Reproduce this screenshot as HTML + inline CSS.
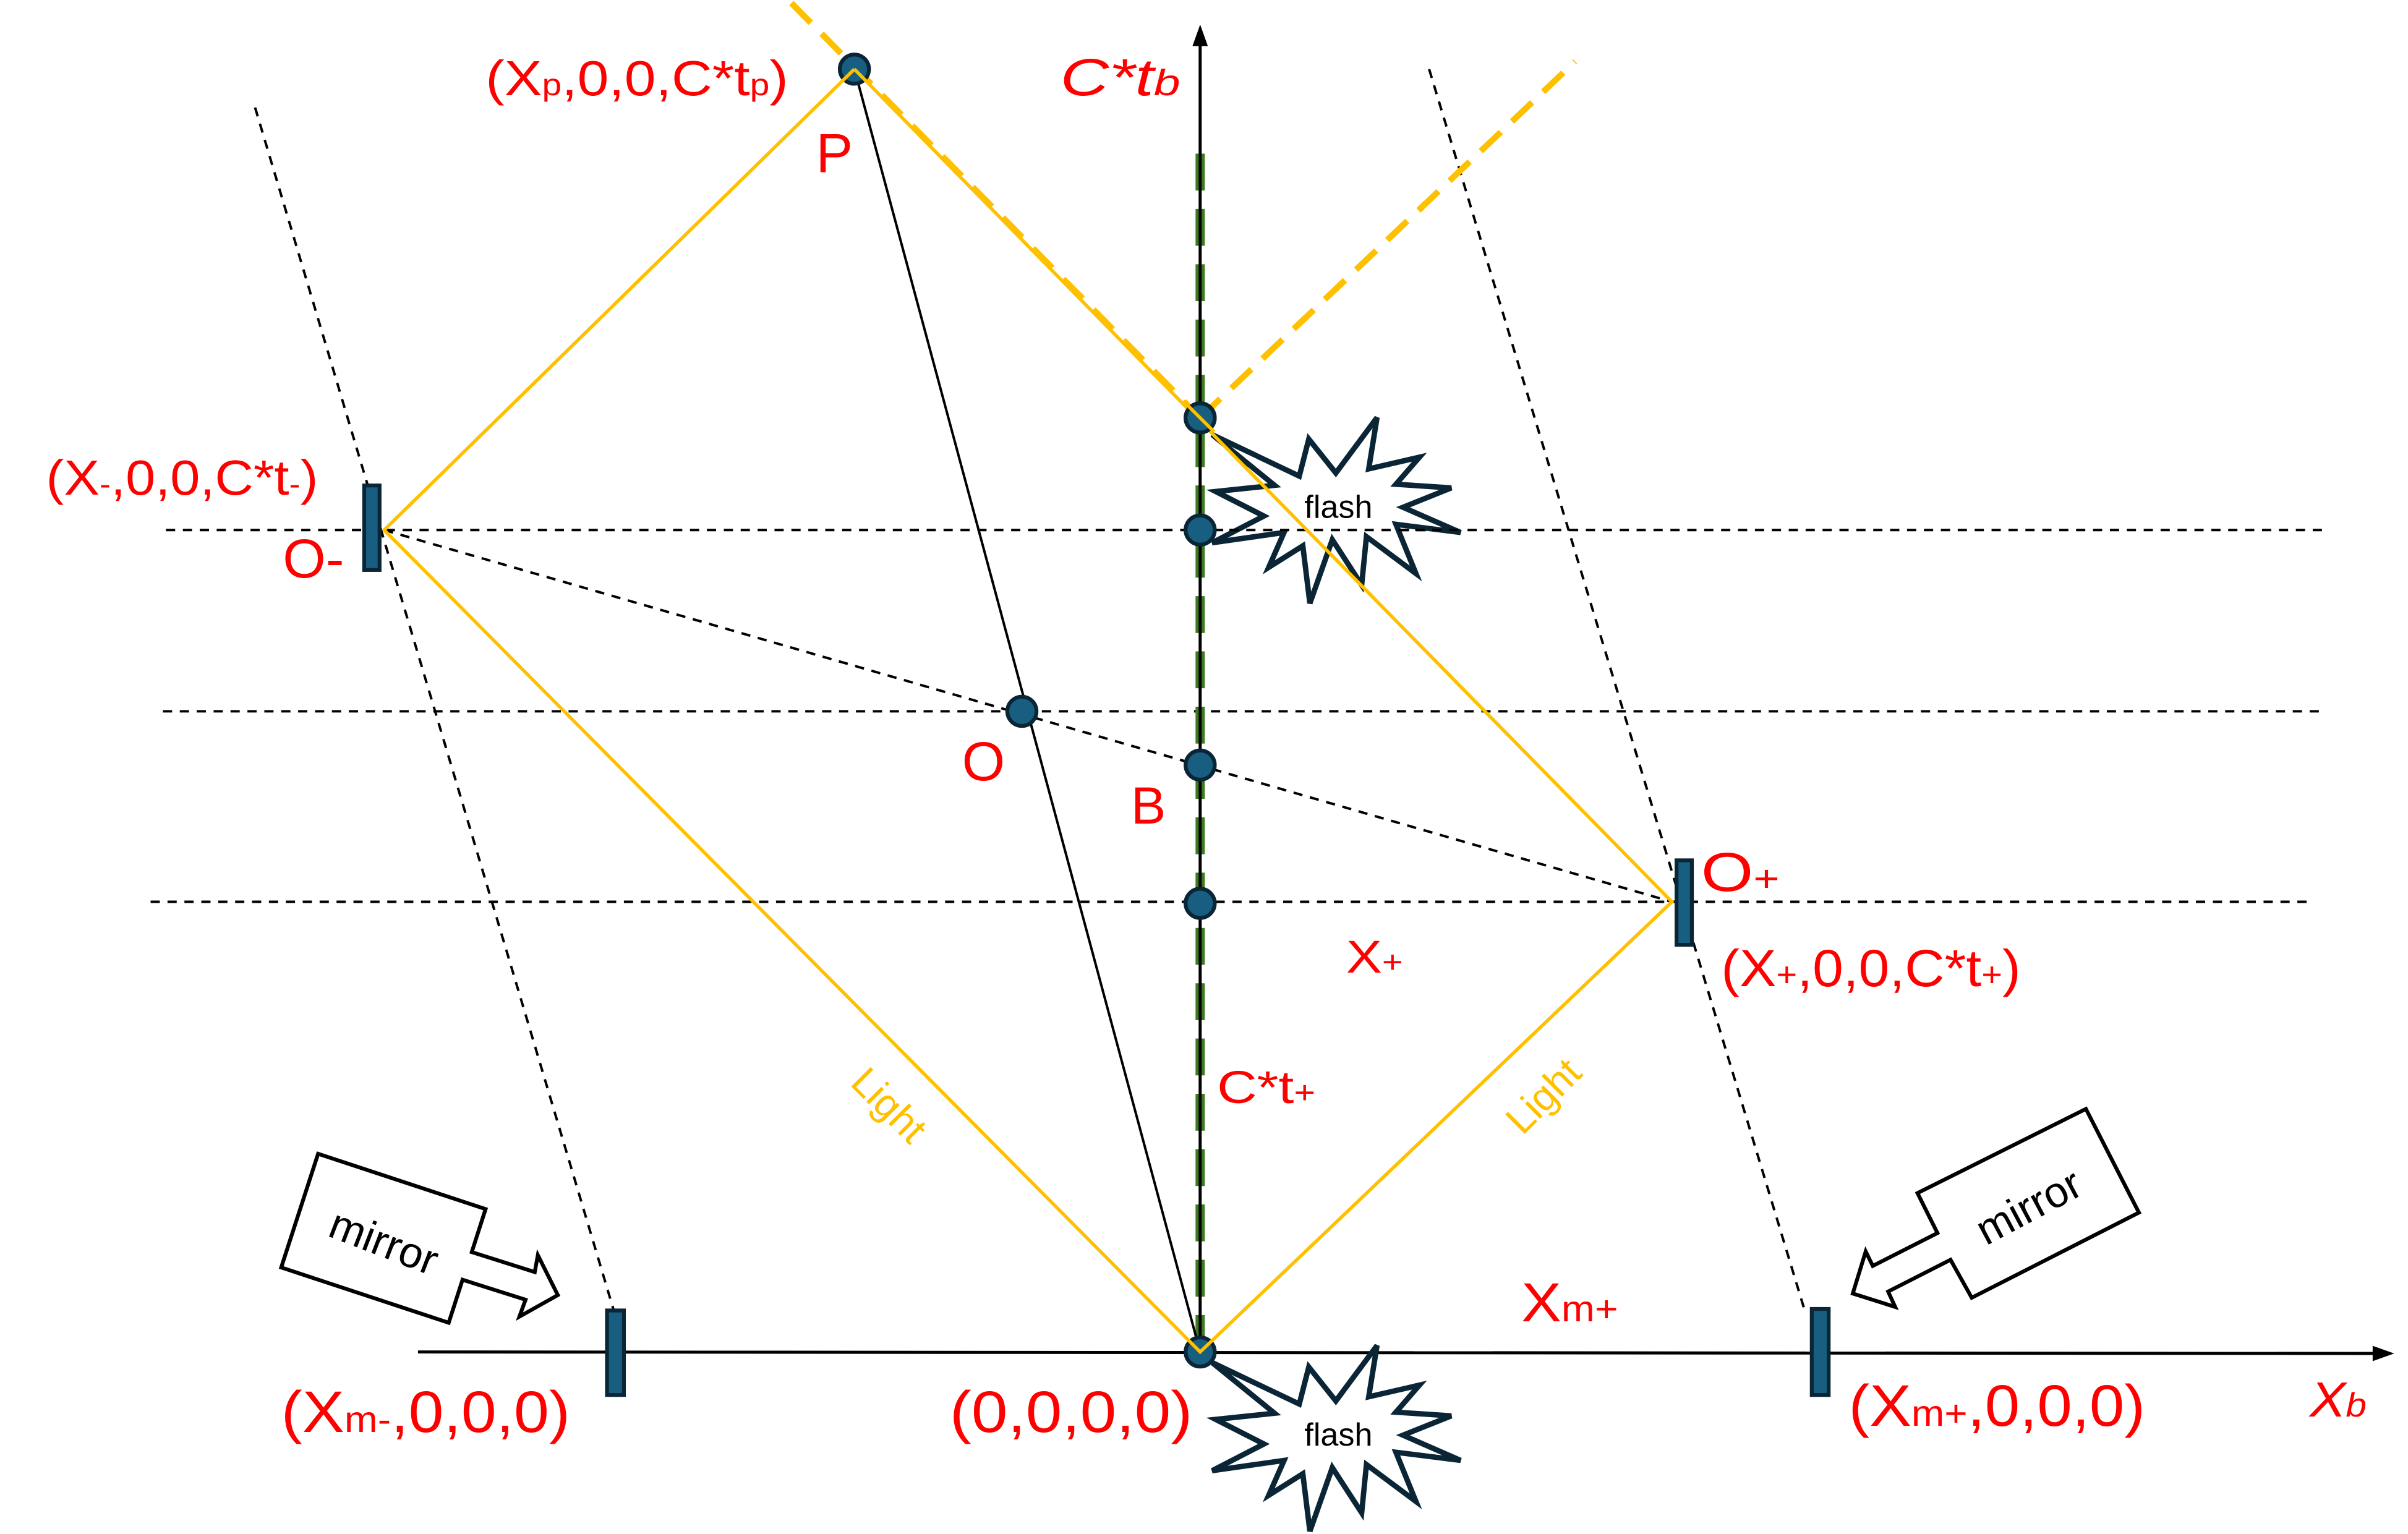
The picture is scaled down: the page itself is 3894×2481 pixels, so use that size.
<!DOCTYPE html>
<html><head><meta charset="utf-8"><style>
html,body{margin:0;padding:0;background:#fff;}
svg{display:block;}
text{font-family:"Liberation Sans",sans-serif;}
</style></head><body>
<svg width="3894" height="2481" viewBox="0 0 1567 998.5" preserveAspectRatio="none" xmlns="http://www.w3.org/2000/svg">
<rect width="1567" height="998.5" fill="#fff"/>
<g stroke="#000" stroke-width="1.6" stroke-dasharray="6,5" fill="none">
<line x1="108" y1="345" x2="1512" y2="345"/>
<line x1="106" y1="463" x2="1510" y2="463"/>
<line x1="98" y1="587" x2="1502" y2="587"/>
<line x1="250" y1="345" x2="1088" y2="587"/>
<line x1="166" y1="70" x2="400" y2="855"/>
<line x1="930" y1="45" x2="1175" y2="855"/>
</g>
<line x1="781" y1="100" x2="781" y2="880" stroke="#3e7a22" stroke-width="6" stroke-dasharray="24,12"/>
<line x1="781" y1="880" x2="781" y2="26" stroke="#000" stroke-width="2"/>
<polygon points="781,16 776,30 786,30" fill="#000"/>
<line x1="272" y1="880" x2="1548" y2="881" stroke="#000" stroke-width="2"/>
<polygon points="1558,881 1544,876 1544,886" fill="#000"/>
<line x1="556" y1="45" x2="781" y2="880" stroke="#000" stroke-width="1.6"/>
<g stroke="#FFC000" stroke-width="4" stroke-dasharray="18,10" fill="none">
<line x1="515" y1="2" x2="781" y2="272"/>
<line x1="781" y1="272" x2="1025" y2="40"/>
</g>
<g fill="#175e80" stroke="#0a2535" stroke-width="2.5">
<rect x="237" y="316" width="10" height="55"/>
<rect x="1091" y="560" width="10" height="55"/>
<rect x="395" y="853" width="11" height="55"/>
<rect x="1179" y="852" width="11" height="56"/>
<circle cx="556" cy="45" r="9.5"/>
<circle cx="781" cy="272" r="9.5"/>
<circle cx="781" cy="345" r="9.5"/>
<circle cx="781" cy="498" r="9.5"/>
<circle cx="781" cy="588" r="9.5"/>
<circle cx="781" cy="880" r="9.5"/>
<circle cx="665" cy="463" r="9.5"/>
</g>
<polygon points="788.8,282.9 845.5,309.9 851.7,285.8 869.3,307.9 896.1,271.8 890.7,305.2 923.7,297.6 908.4,315.2 944.4,317.6 913.0,330.2 950.5,346.6 908.4,341.3 921.4,373.3 889.2,349.3 886.1,380.7 867.0,351.3 852.4,392.7 847.8,355.3 825.6,369.3 835.6,346.6 788.8,353.3 822.5,335.9 791.1,319.9 829.4,315.9" fill="#fff" stroke="#0a2535" stroke-width="3.5"/>
<line x1="800" y1="345" x2="950" y2="345" stroke="#000" stroke-width="1.6" stroke-dasharray="6,5"/>
<g stroke="#FFC000" stroke-width="2.2" fill="none">
<polyline points="556,45 250,345 781,880 1088,587 556,45"/>
</g>
<text x="871" y="337" font-size="21" text-anchor="middle" fill="#000">flash</text>
<g transform="translate(0,604)">
<polygon points="788.8,282.9 845.5,309.9 851.7,285.8 869.3,307.9 896.1,271.8 890.7,305.2 923.7,297.6 908.4,315.2 944.4,317.6 913.0,330.2 950.5,346.6 908.4,341.3 921.4,373.3 889.2,349.3 886.1,380.7 867.0,351.3 852.4,392.7 847.8,355.3 825.6,369.3 835.6,346.6 788.8,353.3 822.5,335.9 791.1,319.9 829.4,315.9" fill="#fff" stroke="#0a2535" stroke-width="3.5"/>
<text x="871" y="337" font-size="21" text-anchor="middle" fill="#000">flash</text>
</g>
<circle cx="781" cy="272" r="9.5" fill="#175e80" stroke="#0a2535" stroke-width="2.5"/>
<line x1="770" y1="261" x2="790" y2="281" stroke="#FFC000" stroke-width="2.2"/>
<polygon points="207,751 316,787 307,815 348,828 350,817 363,843 338,857 342,846 301,833 292,861 183,825" fill="#fff" stroke="#000" stroke-width="2.5"/>
<text x="250" y="818" font-size="28" text-anchor="middle" fill="#000" transform="rotate(21 250 808)">mirror</text>
<polygon points="1357.4,721.8 1391.9,789.3 1283.1,844.7 1269.3,820 1228.7,840.7 1233.3,850.7 1205.7,842 1214.1,814.6 1218.7,824 1260.8,802.6 1247.8,776.6" fill="#fff" stroke="#000" stroke-width="2.5"/>
<text x="1320" y="795" font-size="28" text-anchor="middle" fill="#000" transform="rotate(-28 1320 785)">mirror</text>
<g fill="#ff0000">
<text x="316" y="62" font-size="32" textLength="197" lengthAdjust="spacingAndGlyphs">(X<tspan font-size="20">p</tspan>,0,0,C*t<tspan font-size="20">p</tspan>)</text>
<text x="690" y="62" font-size="34" font-style="italic" textLength="78" lengthAdjust="spacingAndGlyphs">C*t<tspan font-size="24">b</tspan></text>
<text x="531" y="112" font-size="36">P</text>
<text x="30" y="322" font-size="32" textLength="177" lengthAdjust="spacingAndGlyphs">(X<tspan font-size="20">-</tspan>,0,0,C*t<tspan font-size="20">-</tspan>)</text>
<text x="184" y="376" font-size="36">O-</text>
<text x="626" y="508" font-size="36">O</text>
<text x="736" y="536" font-size="34">B</text>
<text x="1107" y="580" font-size="36" textLength="51" lengthAdjust="spacingAndGlyphs">O<tspan font-size="24">+</tspan></text>
<text x="1120" y="642" font-size="34" textLength="195" lengthAdjust="spacingAndGlyphs">(X<tspan font-size="22">+</tspan>,0,0,C*t<tspan font-size="22">+</tspan>)</text>
<text x="876" y="633" font-size="30" textLength="37" lengthAdjust="spacingAndGlyphs">X<tspan font-size="20">+</tspan></text>
<text x="792" y="718" font-size="30" textLength="64" lengthAdjust="spacingAndGlyphs">C*t<tspan font-size="20">+</tspan></text>
<text x="990" y="860" font-size="36" textLength="63" lengthAdjust="spacingAndGlyphs">X<tspan font-size="24">m+</tspan></text>
<text x="183" y="932" font-size="38" textLength="188" lengthAdjust="spacingAndGlyphs">(X<tspan font-size="24">m-</tspan>,0,0,0)</text>
<text x="618" y="932" font-size="38" textLength="158" lengthAdjust="spacingAndGlyphs">(0,0,0,0)</text>
<text x="1203" y="928" font-size="38" textLength="193" lengthAdjust="spacingAndGlyphs">(X<tspan font-size="24">m+</tspan>,0,0,0)</text>
<text x="1503" y="922" font-size="32" font-style="italic" textLength="37" lengthAdjust="spacingAndGlyphs">X<tspan font-size="22">b</tspan></text>
</g>
<g fill="#FFC000" font-size="26">
<text x="578" y="728" text-anchor="middle" transform="rotate(45 578 720)">Light</text>
<text x="1005" y="722" text-anchor="middle" transform="rotate(-45 1005 714)">Light</text>
</g>
</svg>
</body></html>
